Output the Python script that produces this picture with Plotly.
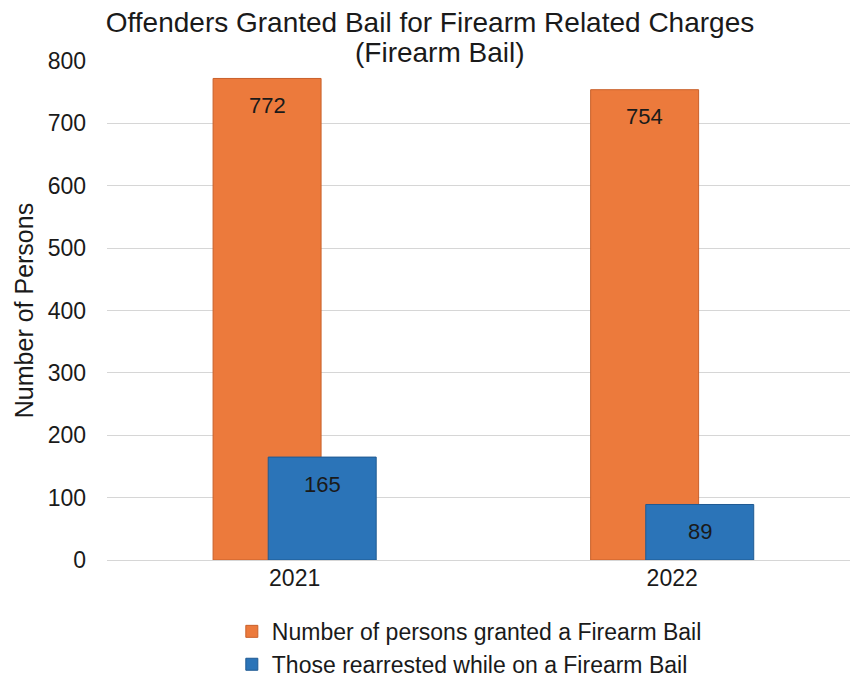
import plotly.graph_objects as go

years = ["2021", "2022"]
granted = [772, 754]
rearrested = [165, 89]
series_names = ["Number of persons granted a Firearm Bail",
                "Those rearrested while on a Firearm Bail"]
title_line1 = "Offenders Granted Bail for Firearm Related Charges"
title_line2 = "(Firearm Bail)"
colors = ["#EC7A3C", "#2B74B8"]
edge_colors = ["#C9602A", "#1F5A92"]

bar_w = 0.286
offsets = [-0.216, -0.070]
FONT = "Liberation Sans, Arial, sans-serif"

fig = go.Figure()
for vals, name, col, ec, off in zip([granted, rearrested], series_names, colors, edge_colors, offsets):
    fig.add_trace(go.Bar(
        x=list(range(len(years))), y=vals, name=name,
        marker=dict(color=col, line=dict(color=ec, width=1)),
        width=bar_w, offset=off,
    ))
    for i, v in enumerate(vals):
        fig.add_annotation(x=i + off + bar_w / 2, y=v, text=str(v), showarrow=False,
                           yshift=-27, font=dict(size=22, color="#1a1a1a", family=FONT))

fig.add_annotation(text=title_line2, xref="paper", yref="paper", x=(440 - 107) / 743,
                   y=1 + (61 - 52) / 499, xanchor="center", yanchor="middle",
                   showarrow=False, font=dict(size=28, color="#1a1a1a", family=FONT))

fig.update_layout(
    width=854, height=683,
    margin=dict(l=107, r=4, t=61, b=123, autoexpand=False),
    paper_bgcolor="white", plot_bgcolor="white",
    barmode="overlay",
    font=dict(family=FONT, color="#1a1a1a", size=22),
    title=dict(text=title_line1, x=430 / 854, xanchor="center",
               y=1 - 22 / 683, yanchor="middle",
               font=dict(size=28, color="#1a1a1a")),
    xaxis=dict(tickmode="array", tickvals=list(range(len(years))), ticktext=years,
               range=[-0.497, 1.471], showgrid=False, zeroline=False, showline=False,
               tickfont=dict(size=23), ticklabelstandoff=2, automargin=False),
    yaxis=dict(range=[0, 800], dtick=100, showgrid=True, gridcolor="#d6d6d6", gridwidth=1,
               zeroline=True, zerolinecolor="#d6d6d6", zerolinewidth=1,
               tickfont=dict(size=23), ticklabelstandoff=20, automargin=False,
               title=dict(text="Number of Persons", font=dict(size=25), standoff=6)),
    legend=dict(orientation="v", x=0.168, xanchor="left", y=-0.1, yanchor="top",
                font=dict(size=23), traceorder="normal", itemwidth=30,
                tracegroupgap=0),
    showlegend=True,
)

fig.write_html("out.html")
